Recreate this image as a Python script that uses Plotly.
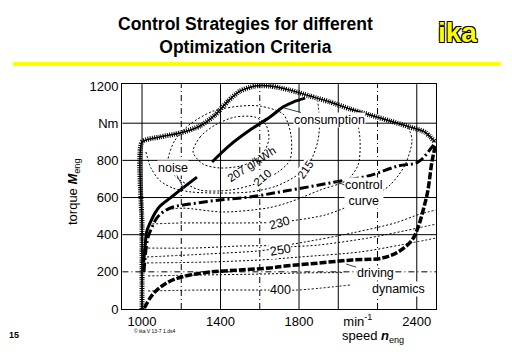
import plotly.graph_objects as go

# ---------------- data (speed [1/min], torque [Nm]) ----------------
FULL_LOAD_X = [1000, 1000, 1000, 1092, 1194, 1296, 1372, 1438, 1499, 1576, 1652, 1754, 1856, 1958, 2060, 2162, 2264, 2366, 2442, 2493]
FULL_LOAD_Y = [0, 450, 899, 926, 947, 985, 1044, 1119, 1173, 1200, 1200, 1178, 1146, 1114, 1076, 1044, 1012, 979, 952, 899]

CONSUMPTION_X = [1357, 1448, 1550, 1652, 1718, 1770, 1831]
CONSUMPTION_Y = [791, 882, 963, 1033, 1087, 1114, 1135]

NOISE_X = [1280, 1194, 1143, 1092, 1066, 1041, 1025, 1015, 1008]
NOISE_Y = [710, 640, 597, 554, 516, 463, 420, 330, 250]

CONTROL_X = [1010, 1020, 1031, 1051, 1076, 1107, 1158, 1245, 1397, 1550, 1729, 1983, 2152, 2305, 2407, 2478, 2498]
CONTROL_Y = [200, 317, 387, 441, 490, 522, 549, 565, 587, 603, 635, 683, 716, 770, 791, 872, 899]

DRIVING_X = [1012, 1041, 1076, 1117, 1168, 1245, 1347, 1499, 1652, 1729, 1897, 2070, 2223, 2305, 2376, 2407, 2442, 2457, 2478, 2495]
DRIVING_Y = [5, 59, 102, 135, 161, 183, 199, 210, 221, 231, 247, 264, 274, 307, 371, 441, 570, 640, 796, 880]

# specific fuel consumption iso-lines [g/kWh]
BSFC_207_X = [1260, 1296, 1372, 1474, 1576, 1632, 1647, 1627, 1576, 1499, 1397, 1311, 1260]
BSFC_207_Y = [845, 926, 990, 1033, 1033, 990, 920, 856, 802, 769, 759, 780, 845]
BSFC_210_X = [1132, 1168, 1245, 1362, 1499, 1601, 1719, 1759, 1754, 1693, 1576, 1448, 1296, 1194, 1143, 1132]
BSFC_210_Y = [802, 909, 995, 1065, 1092, 1092, 1049, 936, 802, 737, 673, 640, 640, 694, 748, 802]
BSFC_215_X = [1020, 1045, 1092, 1160, 1250, 1400, 1550, 1680, 1790, 1860, 1895, 1905, 1895]
BSFC_215_Y = [845, 760, 690, 650, 630, 624, 630, 660, 720, 800, 900, 1000, 1120]
BSFC_220_X = [1130, 1209, 1413, 1637, 1754, 1907, 2045, 2101, 2111, 2091]
BSFC_220_Y = [535, 543, 522, 543, 576, 640, 694, 775, 909, 1044]
BSFC_230_X = [1031, 1209, 1499, 1703, 1933, 2070, 2172, 2264, 2340, 2376, 2352]
BSFC_230_Y = [457, 463, 463, 468, 506, 560, 603, 667, 775, 909, 990]
BSFC_250_X = [1031, 1260, 1499, 1729, 1831, 2070, 2289, 2417, 2498]
BSFC_250_Y = [328, 328, 339, 344, 361, 409, 463, 511, 533]
BSFC_270_X = [1025, 1331, 1586, 1754, 1897, 2152, 2407, 2498]
BSFC_270_Y = [280, 296, 312, 334, 344, 382, 436, 457]
BSFC_300_X = [1025, 1347, 1601, 1805, 2111, 2315, 2498]
BSFC_300_Y = [248, 253, 264, 280, 307, 344, 382]
BSFC_350_X = [1031, 1296, 1601, 1805, 2030]
BSFC_350_Y = [178, 183, 188, 194, 196]
BSFC_400_X = [1031, 1296, 1627, 1790, 2060]
BSFC_400_Y = [97, 102, 102, 102, 129]

X_TICKS = [1000, 1400, 1800, 2100, 2400]
X_TICK_TEXT = ["1000", "1400", "1800", "min<sup>-1</sup>", "2400"]
Y_TICKS = [0, 200, 400, 600, 800, 1000, 1200]
Y_TICK_TEXT = ["0", "200", "400", "600", "800", "Nm", "1200"]
GRID_X_SOLID = [1000, 1400, 1800, 2000, 2400]
GRID_X_DASH = [1200, 1600, 2200]
GRID_Y_SOLID = [400, 600, 800, 1000]
GRID_Y_DASH = [200]

FONT = "Arial, Liberation Sans, sans-serif"

fig = go.Figure()

# grid
shapes = []
for gx in GRID_X_SOLID:
    shapes.append(dict(type="line", xref="x", yref="y", x0=gx, x1=gx, y0=0, y1=1210,
                       line=dict(color="black", width=1), layer="below"))
for gx in GRID_X_DASH:
    shapes.append(dict(type="line", xref="x", yref="y", x0=gx, x1=gx, y0=0, y1=1210,
                       line=dict(color="black", width=1, dash="6px,3px,1px,3px"), layer="below"))
for gy in GRID_Y_SOLID:
    shapes.append(dict(type="line", xref="x", yref="y", x0=900, x1=2500, y0=gy, y1=gy,
                       line=dict(color="black", width=1), layer="below"))
for gy in GRID_Y_DASH:
    shapes.append(dict(type="line", xref="x", yref="y", x0=900, x1=2500, y0=gy, y1=gy,
                       line=dict(color="black", width=1, dash="6px,3px,1px,3px"), layer="below"))
# yellow header rule
shapes.append(dict(type="line", xref="paper", yref="paper", x0=-0.347, x1=1.207, y0=1.089, y1=1.089,
                   line=dict(color="#ffff00", width=4)))

contours = [
    (BSFC_207_X, BSFC_207_Y), (BSFC_210_X, BSFC_210_Y), (BSFC_215_X, BSFC_215_Y),
    (BSFC_220_X, BSFC_220_Y), (BSFC_230_X, BSFC_230_Y), (BSFC_250_X, BSFC_250_Y),
    (BSFC_270_X, BSFC_270_Y), (BSFC_300_X, BSFC_300_Y), (BSFC_350_X, BSFC_350_Y),
    (BSFC_400_X, BSFC_400_Y),
]
for cx, cy in contours:
    fig.add_trace(go.Scatter(x=cx, y=cy, mode="lines", line=dict(color="black", width=1, dash="2px,2px", shape="spline", smoothing=0.8),
                             hoverinfo="skip", showlegend=False))

fig.add_trace(go.Scatter(x=CONSUMPTION_X, y=CONSUMPTION_Y, mode="lines",
                         line=dict(color="black", width=3, shape="spline"), showlegend=False))
fig.add_trace(go.Scatter(x=NOISE_X, y=NOISE_Y, mode="lines",
                         line=dict(color="black", width=3, shape="spline"), showlegend=False))
fig.add_trace(go.Scatter(x=CONTROL_X, y=CONTROL_Y, mode="lines",
                         line=dict(color="black", width=3, dash="9px,3px,2px,3px", shape="spline"), showlegend=False))
fig.add_trace(go.Scatter(x=DRIVING_X, y=DRIVING_Y, mode="lines",
                         line=dict(color="black", width=3.5, dash="7px,2px", shape="spline"), showlegend=False))
fig.add_trace(go.Scatter(x=FULL_LOAD_X, y=FULL_LOAD_Y, mode="lines",
                         line=dict(color="black", width=1.5, shape="spline", smoothing=0.6), showlegend=False))
fig.add_trace(go.Scatter(x=FULL_LOAD_X, y=FULL_LOAD_Y, mode="lines",
                         line=dict(color="black", width=5, dash="1px,1.2px", shape="spline", smoothing=0.6), showlegend=False))

lab = dict(family=FONT, size=12.5, color="black")
clab = dict(family=FONT, size=11.5, color="black")
annotations = [
    # contour labels
    dict(x=1560, y=780, text="207 g/kWh", textangle=-33, showarrow=False, font=clab),
    dict(x=1612, y=705, text="210", textangle=-40, showarrow=False, font=clab, bgcolor="white", borderpad=0),
    dict(x=1831, y=748, text="215", textangle=-55, showarrow=False, font=clab, bgcolor="white", borderpad=0),
    dict(x=1703, y=463, text="230", textangle=-15, showarrow=False, font=lab, bgcolor="white", borderpad=0),
    dict(x=1708, y=317, text="250", textangle=-10, showarrow=False, font=lab, bgcolor="white", borderpad=0),
    dict(x=1708, y=102, text="400", showarrow=False, font=lab, bgcolor="white", borderpad=0),
    # strategy labels
    dict(x=1724, y=1082, ax=45, ay=12, text="consumption", showarrow=True, arrowhead=0, arrowwidth=1,
         font=lab, bgcolor="white", borderpad=0),
    dict(x=1214, y=646, ax=-11, ay=-21, text="noise", showarrow=True, arrowhead=0, arrowwidth=1,
         font=lab, bgcolor="white", borderpad=0),
    dict(x=1983, y=689, ax=29, ay=12, text="control<br>curve", showarrow=True, arrowhead=0, arrowwidth=1,
         font=lab, bgcolor="white", borderpad=0),
    dict(x=2040, y=242, ax=29, ay=9, text="driving", showarrow=True, arrowhead=0, arrowwidth=1,
         font=lab, bgcolor="white", borderpad=0),
    dict(x=2305, y=108, text="dynamics", showarrow=False, font=lab, bgcolor="white", borderpad=0),
    # page text
    dict(xref="paper", yref="paper", x=0.392, y=1.215, xanchor="center", yanchor="middle",
         text="<b>Control Strategies for different<br>Optimization Criteria</b>", showarrow=False,
         font=dict(family=FONT, size=17.5, color="black")),
    dict(xref="paper", yref="paper", x=1.070, y=1.227, xanchor="center", yanchor="middle", text="<b>ika</b>", showarrow=False,
         font=dict(family=FONT, size=28, color="#ffff00",
                   shadow="-1px -1px 0 #000, 1px -1px 0 #000, -1px 1px 0 #000, 1px 1px 0 #000")),
    dict(xref="paper", yref="paper", x=-0.156, y=0.52, xanchor="center", yanchor="middle", textangle=-90,
         text="torque <b><i>M</i></b><sub>eng</sub>", showarrow=False,
         font=dict(family=FONT, size=13, color="black")),
    dict(xref="paper", yref="paper", x=0.80, y=-0.122, xanchor="center", yanchor="middle",
         text="speed <b><i>n</i></b><sub>eng</sub>", showarrow=False,
         font=dict(family=FONT, size=13, color="black")),
    dict(xref="paper", yref="paper", x=-0.344, y=-0.115, xanchor="center", yanchor="middle", text="<b>15</b>", showarrow=False,
         font=dict(family=FONT, size=9, color="black")),
    dict(xref="paper", yref="paper", x=0.103, y=-0.097, xanchor="center", yanchor="middle", text="\u00a9 ika V 13-7 1.ds4", showarrow=False,
         font=dict(family=FONT, size=5, color="black")),
]

fig.update_layout(
    width=512, height=354,
    margin=dict(l=122, r=76, t=84, b=45),
    paper_bgcolor="white", plot_bgcolor="white",
    shapes=shapes, annotations=annotations,
    xaxis=dict(range=[898, 2498], tickvals=X_TICKS, ticktext=X_TICK_TEXT, showgrid=False, zeroline=False,
               showline=True, linecolor="black", linewidth=1, mirror=True, ticks="",
               tickfont=dict(family=FONT, size=13, color="black")),
    yaxis=dict(range=[0, 1211], tickvals=Y_TICKS, ticktext=Y_TICK_TEXT, showgrid=False, zeroline=False,
               showline=True, linecolor="black", linewidth=1, mirror=True, ticks="",
               tickfont=dict(family=FONT, size=13, color="black")),
)

fig.write_html("out.html")
